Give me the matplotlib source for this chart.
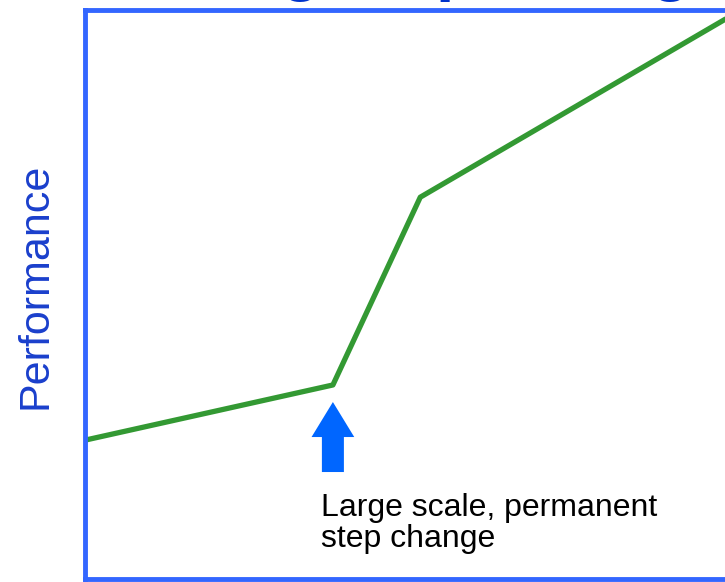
import matplotlib
matplotlib.use('Agg')
from matplotlib import pyplot as plt

plt.rcParams['font.family'] = ['Liberation Sans', 'DejaVu Sans']

# performance curve (x = time, y = performance), arbitrary units
time_pts = [0, 38.3, 51.8, 100]
perf_pts = [24.4, 34.1, 67.1, 99.1]

# step change marker
arrow_x = 38.3
arrow_from = 18.8
arrow_to = 31.1

title_text = 'Big step change'
ylabel_text = 'Performance'
note_text = 'Large scale, permanent\nstep change'

fig = plt.figure(figsize=(7.25, 5.82), dpi=100)
ax = fig.add_axes([85/725, 3/582, 1.01 - 85/725, (569)/582])
ax.patch.set_visible(False)

ax.plot(time_pts, perf_pts, color='#339933', linewidth=3.8, solid_capstyle='butt')

ax.arrow(arrow_x, arrow_from, 0, arrow_to - arrow_from, width=3.4, head_width=6.6,
         head_length=6.15, length_includes_head=True, color='#0066FF', linewidth=0)

ax.text(36.5, 15.2, note_text, fontsize=23, color='black', ha='left', va='top',
        linespacing=1.07)

ax.set_xlim(0, 100)
ax.set_ylim(0, 100)
ax.set_xticks([])
ax.set_yticks([])
for s in ax.spines.values():
    s.set_color('#3366FF')
    s.set_linewidth(3.5)

fig.text(36/725, 1 - 286/582, ylabel_text, rotation=90, fontsize=31, color='#1a3fcc',
         ha='center', va='center')

# title sits above the canvas, only the descenders peek in
fig.text(214/725, 1 + 12/582, title_text, fontsize=48, fontweight='bold', color='#0033CC',
         ha='left', va='baseline', zorder=-1)

fig.savefig('out.png', dpi=100)
